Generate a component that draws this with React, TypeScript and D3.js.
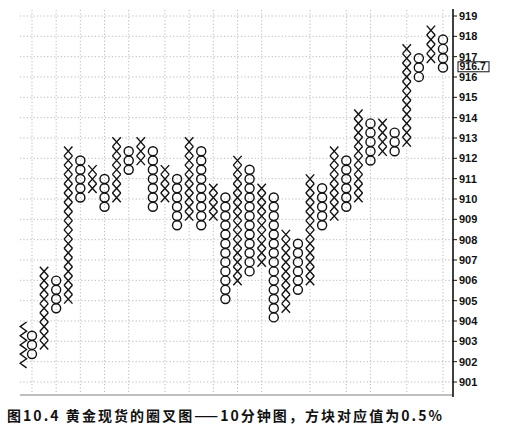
import * as d3 from 'd3'

// point & figure columns, left to right (box index counted from the lowest box)
const COL_TYPE = [
  'X', 'O', 'X', 'O', 'X', 'O', 'X', 'O', 'X', 'O', 'X', 'O',
  'X', 'O', 'X', 'O', 'X', 'O', 'X', 'O', 'X', 'O', 'X', 'O',
  'X', 'O', 'X', 'O', 'X', 'O', 'X', 'O', 'X', 'O', 'X', 'O',
]
const COL_TOP = [4, 3, 10, 9, 23, 22, 21, 20, 24, 23, 24, 23, 21, 20, 24, 23, 19, 18, 22, 21, 19, 18, 14, 13, 20, 19, 23, 22, 27, 26, 26, 25, 34, 33, 36, 35]
const COL_BOTTOM = [0, 1, 2, 6, 7, 18, 19, 17, 18, 21, 22, 17, 18, 15, 16, 15, 16, 7, 9, 10, 11, 5, 6, 8, 9, 15, 16, 17, 18, 22, 23, 23, 24, 31, 33, 32]

// columns that carry a vertical (time) grid line
const GRID_COLS = [2, 4, 6, 8, 10, 13, 15, 17, 19, 21, 25, 28, 30, 33, 36]

const PRICE_TICKS = [901, 902, 903, 904, 905, 906, 907, 908, 909, 910, 911, 912, 913, 914, 915, 916, 917, 918, 919]

const BOX_BASE = 901.92 // price of box 0
const BOX_PCT = 0.0005 // box value
const LAST_PRICE = 916.7

const TITLE = '图10.4 黄金现货的圈叉图——10分钟图，方块对应值为0.5%'

const W = 509
const H = 431

export default function App() {
  const y = d3.scaleLinear().domain([901, 919]).range([382, 16])
  const x = d3.scaleLinear().domain([1, COL_TYPE.length]).range([19.9, 443])

  const boxPrice = (k: number) => BOX_BASE * Math.pow(1 + BOX_PCT, k)
  const boxY = (k: number) => y(boxPrice(k))

  const axisX = 453
  const font = '"Liberation Sans", Arial, sans-serif'

  const symbols: JSX.Element[] = []
  COL_TYPE.forEach((t, i) => {
    const cx = x(i + 1)
    if (i === 0) {
      // first column is drawn as a zigzag line
      const top = boxY(COL_TOP[i]) - (boxY(COL_TOP[i]) - boxY(COL_TOP[i] + 1)) / 2
      const bot = boxY(COL_BOTTOM[i]) + (boxY(COL_BOTTOM[i] - 1) - boxY(COL_BOTTOM[i])) / 2
      const steps = (COL_TOP[i] - COL_BOTTOM[i] + 1) * 2
      const pts: [number, number][] = d3.range(steps + 1).map(s => [
        cx + 3.5 + (s % 2 === 0 ? 3.2 : -3.2),
        top + (bot - top) * s / steps,
      ])
      symbols.push(
        <path key="zz" d={d3.line()(pts) || ''} fill="none" stroke="#111" strokeWidth={1.4} />
      )
      return
    }
    for (let k = COL_BOTTOM[i]; k <= COL_TOP[i]; k++) {
      const cy = boxY(k)
      const hh = (boxY(k) - boxY(k + 1)) / 2
      if (t === 'X') {
        symbols.push(
          <path key={`${i}-${k}`}
            d={`M${cx - 4.2},${cy - hh}L${cx + 4.2},${cy + hh}M${cx + 4.2},${cy - hh}L${cx - 4.2},${cy + hh}`}
            stroke="#111" strokeWidth={1.4} fill="none" />
        )
      } else {
        symbols.push(
          <circle key={`${i}-${k}`} cx={cx} cy={cy} r={hh - 0.1}
            stroke="#111" strokeWidth={1.4} fill="none" />
        )
      }
    }
  })

  const lastY = y(LAST_PRICE) + 4

  return (
    <div style={{ position: 'absolute', left: 0, top: 0 }}>
      <svg width={W} height={H} style={{ display: 'block', background: '#fff' }}>
        {/* horizontal grid */}
        {PRICE_TICKS.map(v => (
          <line key={`h${v}`} x1={20} x2={axisX} y1={y(v)} y2={y(v)}
            stroke="#a8a8a8" strokeWidth={0.8} strokeDasharray="1.2 2.2" />
        ))}
        {/* vertical grid */}
        {GRID_COLS.map(c => (
          <line key={`v${c}`} x1={x(c)} x2={x(c)} y1={10} y2={394}
            stroke="#a8a8a8" strokeWidth={0.8} strokeDasharray="1.2 2.2" />
        ))}
        {/* bottom edge */}
        <line x1={20} x2={axisX} y1={395} y2={395} stroke="#aaa" strokeWidth={1.6} />

        {symbols}

        {/* right price axis */}
        <line x1={axisX} x2={axisX} y1={9} y2={397} stroke="#111" strokeWidth={1.6} />
        {PRICE_TICKS.map(v => (
          <g key={`t${v}`}>
            <line x1={axisX} x2={axisX + 4} y1={y(v)} y2={y(v)} stroke="#111" strokeWidth={1} />
            <text x={axisX + 6} y={y(v)} dy="0.36em" fontFamily={font} fontWeight="bold"
              fontSize={11} fill="#111">{v}</text>
          </g>
        ))}
        <rect x={axisX + 5} y={lastY - 5} width={31} height={10} fill="#fff" stroke="#111" strokeWidth={1} />
        <text x={axisX + 6.5} y={lastY} dy="0.34em" fontFamily={font} fontWeight="bold"
          fontSize={10.5} fill="#111">{LAST_PRICE.toFixed(1)}</text>

        {/* caption */}
        <text x={7} y={421} fontFamily={'"Noto Sans CJK SC", sans-serif'} fontWeight="bold"
          fontSize={14} fill="#111" textLength={435} lengthAdjust="spacing">{TITLE}</text>
      </svg>
    </div>
  )
}
